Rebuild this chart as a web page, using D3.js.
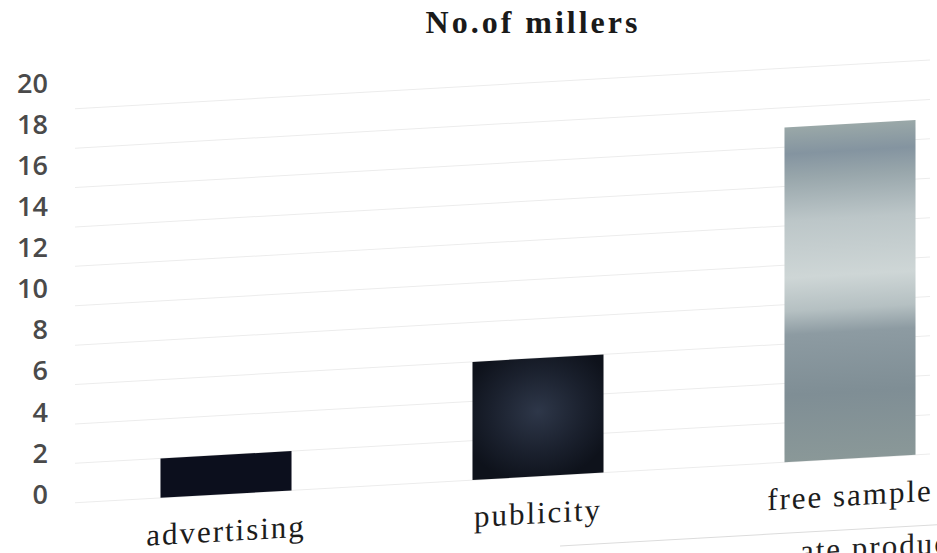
<!DOCTYPE html>
<html>
<head>
<meta charset="utf-8">
<script src="https://cdn.jsdelivr.net/npm/d3@7"></script>
<style>
  body { margin: 0; background: #fff; }
  svg { display: block; }
</style>
</head>
<body>
<div id="chart"></div>
<script>
var title = 'No.of millers';
var categories = ['advertising', 'publicity', 'free sample'];
var values = [2, 6, 17];
var tickValues = [0, 2, 4, 6, 8, 10, 12, 14, 16, 18, 20];
var pageText = 'ate product';

var width = 937, height = 553;

var svg = d3.select('#chart').append('svg')
  .attr('width', width)
  .attr('height', height);

var defs = svg.append('defs');

// shading of the photographed bars
var pub = defs.append('radialGradient').attr('id', 'pubFill')
  .attr('cx', '50%').attr('cy', '45%').attr('r', '60%');
pub.append('stop').attr('offset', '0%').attr('stop-color', '#2e3749');
pub.append('stop').attr('offset', '60%').attr('stop-color', '#1a202d');
pub.append('stop').attr('offset', '100%').attr('stop-color', '#0e121b');

var free = defs.append('linearGradient').attr('id', 'freeFill')
  .attr('x1', 0).attr('x2', 0).attr('y1', 0).attr('y2', 1);
[[0, '#9aa8a8'], [0.08, '#8494a0'], [0.15, '#98a6ab'], [0.28, '#bcc6c8'],
 [0.45, '#ced6d6'], [0.55, '#b5c0c2'], [0.62, '#8d9ba2'], [0.8, '#7f8e95'],
 [1, '#8a9898']].forEach(function(s) {
  free.append('stop').attr('offset', s[0]).attr('stop-color', s[1]);
});

var fills = ['#0c0f1d', 'url(#pubFill)', 'url(#freeFill)'];

// title
svg.append('text')
  .attr('x', 533)
  .attr('y', 33)
  .attr('text-anchor', 'middle')
  .style('font-family', '"Liberation Serif", "Times New Roman", serif')
  .style('font-weight', 'bold')
  .style('font-size', '32px')
  .style('letter-spacing', '3px')
  .attr('fill', '#1a1a1a')
  .text(title);

// y tick labels stand upright, the rest of the photo is tilted
var yLab = d3.scaleLinear().domain([0, 20]).range([494, 83]);

svg.append('g')
  .selectAll('text')
  .data(tickValues)
  .enter()
  .append('text')
  .attr('x', 48)
  .attr('y', function(d) { return yLab(d); })
  .attr('dy', '0.36em')
  .attr('text-anchor', 'end')
  .style('font-family', '"Open Sans", sans-serif')
  .style('font-weight', 600)
  .style('font-size', '27px')
  .attr('fill', '#4a4a4a')
  .text(function(d) { return d; });

var plot = svg.append('g')
  .attr('transform', 'skewY(-3.26)');

var x = d3.scaleBand()
  .domain(categories)
  .range([70, 1006])
  .paddingInner(0.58)
  .paddingOuter(0.29);

var y = d3.scaleLinear()
  .domain([0, 20])
  .range([507, 113]);

plot.append('g')
  .selectAll('line')
  .data(tickValues)
  .enter()
  .append('line')
  .attr('x1', 75)
  .attr('x2', 930)
  .attr('y1', function(d) { return y(d); })
  .attr('y2', function(d) { return y(d); })
  .attr('stroke', '#ececec')
  .attr('stroke-width', 1);

plot.append('g')
  .selectAll('rect')
  .data(values)
  .enter()
  .append('rect')
  .attr('x', function(d, i) { return x(categories[i]); })
  .attr('width', x.bandwidth())
  .attr('y', function(d) { return y(d); })
  .attr('height', function(d) { return y(0) - y(d); })
  .attr('fill', function(d, i) { return fills[i]; });

plot.append('g')
  .selectAll('text')
  .data(categories)
  .enter()
  .append('text')
  .attr('x', function(d) { return x(d) + x.bandwidth() / 2; })
  .attr('y', y(0) + 47)
  .attr('text-anchor', 'middle')
  .style('font-family', '"Liberation Serif", "Times New Roman", serif')
  .style('font-size', '31px')
  .style('letter-spacing', '2px')
  .attr('fill', '#1c1c1c')
  .text(function(d) { return d; });

// edge of the next line of the scanned page
plot.append('line')
  .attr('x1', 560).attr('x2', 937)
  .attr('y1', y(0) + 71).attr('y2', y(0) + 71)
  .attr('stroke', '#dcdcdc');

plot.append('text')
  .attr('x', 800)
  .attr('y', y(0) + 100)
  .style('font-family', '"Liberation Serif", "Times New Roman", serif')
  .style('font-size', '31px')
  .style('letter-spacing', '2px')
  .attr('fill', '#222')
  .text(pageText);
</script>
</body>
</html>
